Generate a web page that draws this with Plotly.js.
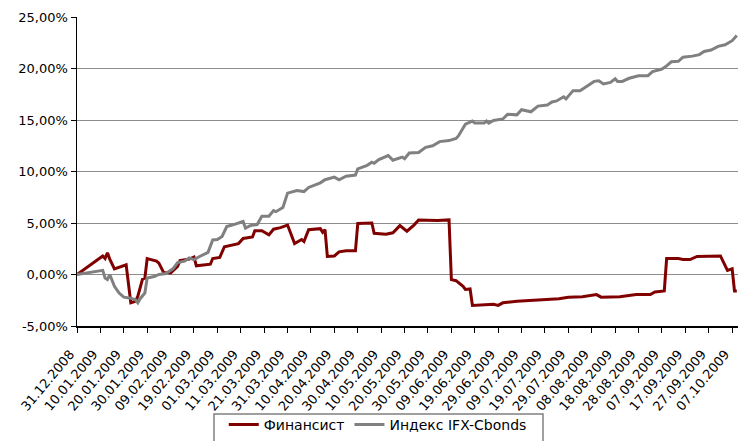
<!DOCTYPE html>
<html>
<head>
<meta charset="utf-8">
<script src="https://cdn.plot.ly/plotly-3.0.1.min.js"></script>
<style>html,body{margin:0;padding:0;background:#fff}#chart{width:739px;height:441px}</style>
</head>
<body>
<div id="chart"></div>
<script>
// Финансист
const finDates = ['2008-12-31','2009-01-11','2009-01-12','2009-01-13','2009-01-14','2009-01-16','2009-01-21','2009-01-23','2009-01-25','2009-01-26','2009-01-28','2009-01-29','2009-01-30','2009-02-03','2009-02-04','2009-02-06','2009-02-09','2009-02-12','2009-02-13','2009-02-17','2009-02-19','2009-02-20','2009-02-24','2009-02-26','2009-02-27','2009-03-02','2009-03-04','2009-03-10','2009-03-12','2009-03-16','2009-03-17','2009-03-20','2009-03-23','2009-03-25','2009-03-28','2009-03-31','2009-04-03','2009-04-06','2009-04-07','2009-04-09','2009-04-14','2009-04-15','2009-04-16','2009-04-17','2009-04-20','2009-04-22','2009-04-25','2009-04-29','2009-04-30','2009-05-06','2009-05-07','2009-05-12','2009-05-15','2009-05-18','2009-05-21','2009-05-24','2009-05-26','2009-06-03','2009-06-08','2009-06-09','2009-06-11','2009-06-14','2009-06-15','2009-06-17','2009-06-18','2009-06-22','2009-06-27','2009-06-29','2009-07-01','2009-07-07','2009-07-15','2009-07-21','2009-07-25','2009-07-29','2009-08-04','2009-08-10','2009-08-12','2009-08-20','2009-08-27','2009-09-02','2009-09-04','2009-09-08','2009-09-09','2009-09-14','2009-09-16','2009-09-19','2009-09-22','2009-10-02','2009-10-04','2009-10-05','2009-10-07','2009-10-08','2009-10-09'];
const finValues = [0,1.8,1.55,2.1,1.5,0.55,0.95,-2.75,-2.6,-2.1,-0.45,-0.35,1.55,1.3,1.1,0.2,0.15,0.8,1.35,1.5,1.7,0.85,0.95,1.0,1.55,1.65,2.7,3.0,3.5,3.65,4.25,4.25,3.85,4.4,4.55,4.8,3.0,3.4,3.2,4.35,4.45,4.1,4.35,1.75,1.8,2.2,2.3,2.3,4.95,5.0,4.0,3.9,4.05,4.75,4.2,4.8,5.3,5.25,5.3,-0.5,-0.6,-1.15,-1.45,-1.4,-3.0,-2.95,-2.9,-3.0,-2.75,-2.6,-2.5,-2.4,-2.35,-2.2,-2.15,-1.95,-2.2,-2.15,-1.95,-1.95,-1.7,-1.6,1.55,1.55,1.45,1.45,1.75,1.8,0.95,0.4,0.55,-1.6,-1.6];

// Индекс IFX-Cbonds
const idxDates = ['2008-12-31','2009-01-11','2009-01-12','2009-01-13','2009-01-14','2009-01-16','2009-01-18','2009-01-20','2009-01-23','2009-01-25','2009-01-26','2009-01-27','2009-01-29','2009-01-30','2009-02-02','2009-02-04','2009-02-07','2009-02-10','2009-02-12','2009-02-15','2009-02-17','2009-02-19','2009-02-21','2009-02-25','2009-02-27','2009-03-01','2009-03-03','2009-03-05','2009-03-08','2009-03-12','2009-03-13','2009-03-15','2009-03-18','2009-03-20','2009-03-23','2009-03-25','2009-03-26','2009-03-29','2009-03-31','2009-04-04','2009-04-07','2009-04-09','2009-04-14','2009-04-16','2009-04-20','2009-04-22','2009-04-25','2009-04-29','2009-04-30','2009-05-04','2009-05-06','2009-05-07','2009-05-09','2009-05-13','2009-05-15','2009-05-19','2009-05-20','2009-05-22','2009-05-26','2009-05-29','2009-06-01','2009-06-04','2009-06-08','2009-06-11','2009-06-12','2009-06-15','2009-06-18','2009-06-19','2009-06-23','2009-06-24','2009-06-25','2009-06-27','2009-07-01','2009-07-03','2009-07-07','2009-07-09','2009-07-13','2009-07-16','2009-07-20','2009-07-22','2009-07-24','2009-07-27','2009-07-28','2009-07-31','2009-08-03','2009-08-07','2009-08-09','2009-08-11','2009-08-13','2009-08-16','2009-08-18','2009-08-19','2009-08-21','2009-08-24','2009-08-28','2009-09-01','2009-09-03','2009-09-07','2009-09-09','2009-09-11','2009-09-14','2009-09-16','2009-09-20','2009-09-23','2009-09-25','2009-09-28','2009-10-01','2009-10-04','2009-10-07','2009-10-09'];
const idxValues = [0,0.4,-0.35,-0.5,0.0,-1.15,-1.8,-2.2,-2.3,-2.45,-2.75,-2.35,-1.8,-0.35,-0.2,0.0,0.1,0.55,1.15,1.3,1.6,1.45,1.7,2.15,3.35,3.4,3.7,4.65,4.85,5.15,4.5,4.75,4.85,5.65,5.65,6.2,6.1,6.5,7.9,8.15,8.05,8.45,8.9,9.2,9.45,9.2,9.55,9.65,10.25,10.6,10.9,10.8,11.15,11.55,11.1,11.4,11.25,11.8,11.85,12.35,12.5,12.9,13.0,13.2,13.45,14.6,14.9,14.7,14.7,14.9,14.7,14.95,15.1,15.55,15.5,16.0,15.8,16.35,16.45,16.75,16.85,17.25,17.05,17.85,17.85,18.5,18.75,18.8,18.5,18.65,19.0,18.75,18.75,19.05,19.3,19.3,19.7,19.95,20.25,20.65,20.7,21.1,21.2,21.35,21.65,21.8,22.15,22.3,22.7,23.2];

const seriesNames = ['Финансист','Индекс IFX-Cbonds'];
const yTicks = [-5,0,5,10,15,20,25];
const yTickText = yTicks.map(v => v.toFixed(2).replace('.', ',') + '%');

const FAMILY = 'DejaVu Sans, Verdana, sans-serif';

const traces = [
  {x: finDates, y: finValues, name: seriesNames[0], type: 'scatter', mode: 'lines',
   line: {color: '#800000', width: 3}},
  {x: idxDates, y: idxValues, name: seriesNames[1], type: 'scatter', mode: 'lines',
   line: {color: '#808080', width: 3}}
];

const layout = {
  width: 739, height: 441,
  margin: {l: 77, r: 1, t: 17, b: 115},
  paper_bgcolor: '#fff', plot_bgcolor: '#fff',
  font: {family: FAMILY, size: 13, color: '#000'},
  showlegend: true,
  hovermode: false,
  xaxis: {
    type: 'date', automargin: false,
    range: ['2008-12-31', '2009-10-09 12:00'],
    tick0: '2008-12-31', dtick: 864000000,
    tickformat: '%d.%m.%Y', tickangle: -50,
    ticks: 'outside', ticklen: 5, tickcolor: '#000',
    ticklabeloverflow: 'allow',
    ticklabelstandoff: 9, ticklabelshift: -7,
    showline: true, linecolor: '#000', linewidth: 1.5,
    showgrid: false, zeroline: false,
    tickfont: {family: FAMILY, size: 13, color: '#000'}
  },
  yaxis: {
    range: [-5, 25], automargin: false,
    tickmode: 'array', tickvals: yTicks, ticktext: yTickText,
    ticks: 'outside', ticklen: 5, tickcolor: '#000',
    showline: true, linecolor: '#000', linewidth: 1.5,
    showgrid: true, gridcolor: '#8c8c8c', gridwidth: 1,
    zeroline: false,
    tickfont: {family: FAMILY, size: 13, color: '#000'}
  },
  legend: {
    orientation: 'h', xref: 'paper', x: 0.455, xanchor: 'center',
    yref: 'container', y: 0, yanchor: 'bottom',
    borderwidth: 0, bgcolor: 'rgba(0,0,0,0)',
    itemwidth: 30,
    font: {family: FAMILY, size: 14, color: '#000'}
  },
  shapes: [{
    type: 'rect', xref: 'paper', yref: 'paper',
    x0: (214 - 77) / 661, x1: (543 - 77) / 661,
    y0: -(414 - 326) / 309, y1: -(450 - 326) / 309,
    line: {color: '#808080', width: 1.5}, fillcolor: 'rgba(0,0,0,0)', layer: 'below'
  }]
};

Plotly.newPlot('chart', traces, layout, {displayModeBar: false, staticPlot: true});
</script>
</body>
</html>
